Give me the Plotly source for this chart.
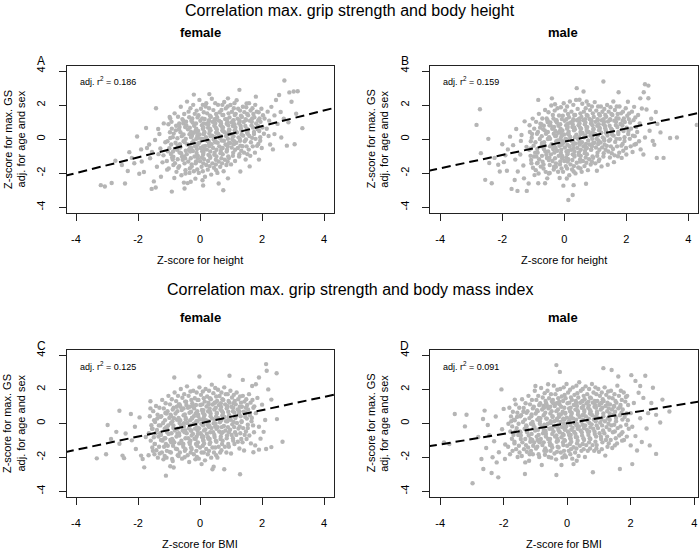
import plotly.graph_objects as go

# ---------------- data ----------------
TICK_VALS = [-4, -2, 0, 2, 4]
TICK_TEXT = ["-4", "-2", "0", "2", "4"]

PANEL_LETTERS = ["A", "B", "C", "D"]
PANEL_SEX = ["female", "male", "female", "male"]
X_TITLES = ["Z-score for height", "Z-score for height", "Z-score for BMI", "Z-score for BMI"]
ADJ_R2 = ["0.186", "0.159", "0.125", "0.091"]
FIT_INTERCEPT = [-0.15, -0.15, 0.0, 0.0]
FIT_SLOPE = [0.46, 0.39, 0.39, 0.31]
ROW_TITLES = ["Correlation max. grip strength and body height",
              "Correlation max. grip strength and body mass index"]
Y_TITLE_1 = "Z-score for max. GS"
Y_TITLE_2 = "adj. for age and sex"

# panel A: female, height
A_PTS = [
(-3.20,-2.70),(-3.07,-2.78),(-2.85,-2.57),(-2.73,-1.27),(-2.52,-1.52),(-2.42,-2.60),(-2.33,-1.87),(-2.28,-0.76),
(-2.12,-1.41),(-2.03,0.16),(-1.96,-2.03),(-1.88,-1.31),(-1.81,-1.93),(-1.74,0.66),(-1.71,-0.52),(-1.64,-0.31),
(-1.61,-1.12),(-1.56,-2.92),(-1.49,-2.48),(-1.43,-2.84),(-1.42,1.82),(-1.39,-1.62),(-1.34,-0.88),(-1.31,0.31),
(-1.26,-2.21),(-1.21,-1.36),(-1.17,0.93),(-1.12,-0.18),(-1.06,-1.79),(-0.91,-3.08),(-0.96,1.22),(-1.45,-0.05),
(-1.55,-0.75),(-1.28,-0.55),(-1.18,-0.95),(-2.20,-1.10),(-1.90,-0.60),(-1.35,0.60),
(-1.02,0.88),(-0.97,0.41),(-1.05,-0.12),(-0.99,-0.53),(-0.94,-0.87),(-1.07,-1.28),(-1.01,-1.72),(-0.96,0.07),(-1.04,-0.71),(-0.98,1.31),
(-0.82,1.52),(-0.77,0.79),(-0.85,0.33),(-0.79,-0.21),(-0.74,-0.62),(-0.86,-1.03),(-0.81,-1.41),(-0.76,-1.92),(-0.83,-2.28),(-0.78,0.52),(-0.72,-0.38),(-0.88,-1.19),
(-0.62,1.91),(-0.57,1.18),(-0.66,0.72),(-0.59,0.18),(-0.53,-0.12),(-0.64,-0.49),(-0.61,-0.83),(-0.56,-1.21),(-0.67,-1.58),(-0.60,-2.12),(-0.54,0.93),(-0.65,-0.29),(-0.58,-1.02),(-0.63,0.41),(-0.52,-2.55),
(-0.42,2.21),(-0.37,1.62),(-0.45,1.03),(-0.39,0.58),(-0.34,0.29),(-0.46,0.02),(-0.41,-0.31),(-0.36,-0.62),(-0.43,-0.88),(-0.38,-1.31),(-0.33,-1.72),(-0.47,-2.02),(-0.40,-2.58),(-0.35,1.29),(-0.44,0.81),(-0.32,-0.49),(-0.48,-1.12),
(-0.22,2.02),(-0.17,1.49),(-0.25,1.22),(-0.19,0.79),(-0.14,0.51),(-0.26,0.21),(-0.21,-0.09),(-0.16,-0.42),(-0.23,-0.69),(-0.18,-1.02),(-0.13,-1.31),(-0.27,-1.61),(-0.20,-1.88),(-0.15,-2.32),(-0.24,0.98),(-0.12,0.03),(-0.28,-0.52),(-0.11,-0.81),(-0.20,0.38),(-0.20,2.62),
(-0.02,2.31),(0.03,1.79),(-0.05,1.41),(0.01,1.08),(0.06,0.82),(-0.06,0.49),(-0.01,0.28),(0.04,0.02),(-0.03,-0.21),(0.02,-0.52),(0.07,-0.71),(-0.07,-0.98),(0.00,-1.29),(0.05,-1.62),(-0.04,-1.98),(0.08,-2.41),(0.09,0.61),(-0.08,-0.33),(0.10,-0.91),(-0.09,0.19),(0.10,-2.72),
(0.18,1.92),(0.23,1.52),(0.15,1.19),(0.21,0.91),(0.26,0.68),(0.14,0.42),(0.19,0.12),(0.24,-0.11),(0.17,-0.39),(0.22,-0.61),(0.27,-0.92),(0.13,-1.18),(0.20,-1.52),(0.25,-1.79),(0.16,-2.21),(0.28,1.02),(0.12,0.31),(0.29,-0.28),(0.11,-0.79),(0.20,2.12),
(0.38,2.38),(0.43,1.71),(0.35,1.31),(0.41,1.02),(0.46,0.79),(0.34,0.52),(0.39,0.21),(0.44,-0.02),(0.37,-0.29),(0.42,-0.51),(0.47,-0.79),(0.33,-1.09),(0.40,-1.42),(0.45,-1.68),(0.36,-2.08),(0.48,1.12),(0.32,0.62),(0.49,-0.18),(0.31,-0.98),(0.30,0.33),(0.30,2.65),
(0.58,2.02),(0.63,1.58),(0.55,1.29),(0.61,1.09),(0.66,0.82),(0.54,0.59),(0.59,0.31),(0.64,0.08),(0.57,-0.21),(0.62,-0.42),(0.67,-0.69),(0.53,-1.01),(0.60,-1.31),(0.65,-1.62),(0.56,-1.98),(0.68,0.91),(0.52,0.38),(0.69,-0.52),(0.51,-1.21),(0.60,-2.60),
(0.78,2.19),(0.83,1.81),(0.75,1.42),(0.81,1.18),(0.86,0.91),(0.74,0.69),(0.79,0.41),(0.84,0.19),(0.77,-0.09),(0.82,-0.31),(0.87,-0.62),(0.73,-0.88),(0.80,-1.21),(0.85,-1.52),(0.76,-1.88),(0.88,1.02),(0.72,0.52),(0.89,-0.41),(0.75,-3.00),(0.90,2.40),
(0.98,2.01),(1.03,1.61),(0.95,1.28),(1.01,0.99),(1.06,0.78),(0.94,0.58),(0.99,0.29),(1.04,0.01),(0.97,-0.22),(1.02,-0.49),(1.07,-0.79),(0.93,-1.11),(1.00,-1.48),(1.08,1.12),(0.92,0.41),(1.09,-0.29),
(1.18,2.29),(1.23,1.79),(1.15,1.49),(1.21,1.21),(1.26,0.92),(1.14,0.69),(1.19,0.39),(1.24,0.11),(1.17,-0.21),(1.22,-0.52),(1.27,-0.88),(1.13,-1.28),(1.28,1.02),(1.12,0.52),(1.29,-0.09),(1.27,2.90),
(1.38,1.91),(1.43,1.59),(1.35,1.31),(1.41,1.01),(1.46,0.78),(1.34,0.49),(1.39,0.21),(1.44,-0.12),(1.37,-0.41),(1.42,-0.79),(1.47,-1.19),(1.48,1.12),(1.32,0.62),(1.50,2.10),
(1.58,2.12),(1.63,1.69),(1.55,1.41),(1.61,1.09),(1.66,0.81),(1.54,0.52),(1.59,0.19),(1.64,-0.18),(1.57,-0.61),(1.62,-0.98),(1.68,1.22),(1.52,0.38),
(1.78,2.02),(1.83,1.62),(1.75,1.29),(1.81,0.92),(1.86,0.59),(1.74,0.31),(1.79,0.02),(1.84,-0.39),(1.77,-0.79),(1.88,1.11),(1.80,2.50),
(1.98,1.79),(2.03,1.41),(1.95,1.02),(2.01,0.69),(2.06,0.32),(1.94,-0.09),(1.99,-0.52),(2.08,1.22),
(2.18,1.62),(2.23,1.09),(2.15,0.61),(2.21,0.19),(2.26,-0.31),
(2.72,3.45),(2.88,2.75),(3.02,2.80),(3.15,2.82),(2.95,2.20),(3.30,0.65),(3.05,-0.30),(2.80,-0.38),(2.60,1.60),(2.50,0.90),
(2.70,1.20),(2.45,2.30),(2.55,2.60),(2.35,-0.60),(2.30,1.90),(2.40,0.30),(2.62,0.10),(2.85,1.00),(3.10,1.50),(2.40,1.40),
(-0.30,-2.50),(1.90,-1.20),(1.30,-1.90),(0.90,-2.30),(-0.50,-2.90),(1.60,-1.60),
# denser core
(-0.91,0.62),(-0.88,0.12),(-0.93,-0.31),(-0.87,-0.72),(-0.90,-1.08),(-0.86,-1.52),(-0.92,1.02),
(-0.71,1.32),(-0.68,0.58),(-0.73,0.06),(-0.69,-0.42),(-0.66,-0.78),(-0.72,-1.18),(-0.70,-1.68),(-0.67,0.92),
(-0.51,1.48),(-0.48,0.72),(-0.53,0.28),(-0.49,-0.18),(-0.46,-0.68),(-0.52,-1.02),(-0.50,-1.42),(-0.47,-1.82),(-0.54,1.08),
(-0.31,1.82),(-0.28,1.08),(-0.33,0.68),(-0.29,0.12),(-0.26,-0.22),(-0.32,-0.72),(-0.30,-1.12),(-0.27,-1.48),(-0.34,-1.98),(-0.29,0.42),
(-0.11,1.68),(-0.08,1.28),(-0.13,0.92),(-0.09,0.38),(-0.06,0.08),(-0.12,-0.28),(-0.10,-0.58),(-0.07,-1.12),(-0.14,-1.42),(-0.09,-1.78),(-0.12,0.62),
(0.09,2.02),(0.12,1.58),(0.07,1.22),(0.11,0.68),(0.14,0.38),(0.08,0.02),(0.10,-0.42),(0.13,-0.62),(0.06,-1.08),(0.11,-1.42),(0.09,-1.88),(0.12,0.92),
(0.29,1.82),(0.32,1.38),(0.27,0.88),(0.31,0.48),(0.34,0.18),(0.28,-0.12),(0.30,-0.42),(0.33,-0.72),(0.26,-1.28),(0.31,-1.58),(0.29,1.12),
(0.49,2.12),(0.52,1.48),(0.47,1.18),(0.51,0.68),(0.54,0.42),(0.48,0.12),(0.50,-0.12),(0.53,-0.62),(0.46,-0.92),(0.51,-1.48),(0.49,0.92),(0.52,-1.82),
(0.69,1.72),(0.72,1.42),(0.67,1.02),(0.71,0.72),(0.74,0.48),(0.68,0.18),(0.70,-0.08),(0.73,-0.52),(0.66,-0.82),(0.71,-1.42),(0.69,-1.12),(0.72,2.02),
(0.89,1.92),(0.92,1.52),(0.87,1.18),(0.91,0.82),(0.94,0.52),(0.88,0.28),(0.90,0.02),(0.93,-0.22),(0.86,-0.72),(0.91,-1.02),(0.89,-1.32),
(1.09,1.82),(1.12,1.42),(1.07,1.08),(1.11,0.88),(1.14,0.52),(1.08,0.18),(1.10,-0.12),(1.13,-0.62),(1.06,-0.98),(1.11,2.12),
(1.29,1.68),(1.32,1.38),(1.27,1.12),(1.31,0.78),(1.34,0.28),(1.28,0.02),(1.30,-0.38),(1.33,-0.68),(1.26,-1.02),
(1.49,1.88),(1.52,1.48),(1.47,1.18),(1.51,0.62),(1.54,0.32),(1.48,-0.02),(1.50,-0.42),(1.53,-0.88),
(1.69,1.82),(1.72,1.48),(1.67,1.02),(1.71,0.68),(1.74,0.42),(1.68,0.08),(1.70,-0.42),
(1.89,1.58),(1.92,1.22),(1.87,0.78),(1.91,0.48),(1.94,0.12),(1.88,-0.28),
]

# panel B: male, height
B_PTS = [
(-2.72,1.76),(-2.83,0.84),(-2.45,0.02),(-2.69,-0.82),(-2.55,-2.39),(-2.34,-2.59),(-1.70,-2.92),(-1.51,-3.04),
(-1.21,-3.04),(-2.42,-1.40),(-2.13,-1.50),(-2.08,-1.90),(-1.95,-1.35),(-1.85,-1.85),(-1.82,-0.60),(-1.75,0.15),
(-1.65,-0.35),(-1.58,-1.20),(-1.55,0.60),(-1.50,-1.90),(-1.42,-0.90),(-1.38,0.25),(-1.32,-1.55),(-1.30,-2.30),
(-1.28,1.05),(-1.22,-0.45),(-1.40,-0.10),(-1.90,-0.95),(-2.25,-1.10),(-2.00,-0.30),(-1.60,-2.40),(-1.15,-2.60),
(-1.02,1.21),(-0.97,0.62),(-1.05,0.09),(-0.99,-0.38),(-0.94,-0.79),(-1.07,-1.22),(-1.01,-1.68),(-0.96,-2.11),(-1.04,0.31),(-0.98,-1.02),(-1.08,-0.55),
(-0.82,1.49),(-0.77,0.91),(-0.85,0.42),(-0.79,0.01),(-0.74,-0.41),(-0.86,-0.79),(-0.81,-1.18),(-0.76,-1.61),(-0.83,-2.02),(-0.78,0.68),(-0.72,-0.22),(-0.88,-1.42),(-0.84,2.31),(-0.62,-2.59),(-0.84,-2.59),
(-0.62,1.72),(-0.57,1.22),(-0.66,0.79),(-0.59,0.32),(-0.53,0.01),(-0.64,-0.38),(-0.61,-0.72),(-0.56,-1.11),(-0.67,-1.49),(-0.60,-1.92),(-0.54,1.01),(-0.65,-0.18),(-0.58,-0.92),(-0.63,0.52),(-0.55,-2.30),
(-0.42,1.98),(-0.37,1.42),(-0.45,0.99),(-0.39,0.61),(-0.34,0.32),(-0.46,0.02),(-0.41,-0.29),(-0.36,-0.58),(-0.43,-0.89),(-0.38,-1.28),(-0.33,-1.62),(-0.47,-1.98),(-0.35,1.21),(-0.44,0.81),(-0.32,-0.42),(-0.48,-1.09),(-0.40,2.40),
(-0.22,1.82),(-0.17,1.39),(-0.25,1.12),(-0.19,0.79),(-0.14,0.49),(-0.26,0.21),(-0.21,-0.08),(-0.16,-0.39),(-0.23,-0.68),(-0.18,-0.98),(-0.13,-1.31),(-0.27,-1.62),(-0.20,-1.91),(-0.15,-2.28),(-0.24,0.98),(-0.12,0.03),(-0.28,-0.52),(-0.11,-0.81),(-0.20,0.38),
(-0.02,2.11),(0.03,1.69),(-0.05,1.38),(0.01,1.08),(0.06,0.82),(-0.06,0.51),(-0.01,0.28),(0.04,0.02),(-0.03,-0.21),(0.02,-0.49),(0.07,-0.72),(-0.07,-0.99),(0.00,-1.28),(0.05,-1.58),(-0.04,-1.92),(0.08,-2.31),(0.09,0.62),(-0.08,-0.33),(0.10,-0.88),(-0.09,0.18),(-0.03,-2.73),(0.13,-3.57),(0.27,-3.28),
(0.18,2.22),(0.23,1.62),(0.15,1.29),(0.21,0.98),(0.26,0.72),(0.14,0.44),(0.19,0.13),(0.24,-0.12),(0.17,-0.41),(0.22,-0.62),(0.27,-0.89),(0.13,-1.18),(0.20,-1.48),(0.25,-1.78),(0.16,-2.12),(0.28,1.08),(0.12,0.32),(0.29,-0.29),(0.11,-0.79),(0.30,-2.70),
(0.38,2.31),(0.43,1.78),(0.35,1.42),(0.41,1.11),(0.46,0.82),(0.34,0.58),(0.39,0.27),(0.44,0.02),(0.37,-0.26),(0.42,-0.51),(0.47,-0.78),(0.33,-1.02),(0.40,-1.38),(0.45,-1.66),(0.36,-2.01),(0.48,1.21),(0.32,0.69),(0.49,-0.16),(0.31,-0.92),(0.40,3.00),(0.62,2.80),
(0.58,2.08),(0.63,1.62),(0.55,1.31),(0.61,1.12),(0.66,0.88),(0.54,0.62),(0.59,0.36),(0.64,0.11),(0.57,-0.18),(0.62,-0.41),(0.67,-0.68),(0.53,-0.98),(0.60,-1.28),(0.65,-1.58),(0.56,-1.92),(0.68,0.98),(0.52,0.42),(0.69,-0.52),(0.51,-1.18),(0.70,-2.62),
(0.78,2.02),(0.83,1.71),(0.75,1.38),(0.81,1.19),(0.86,0.92),(0.74,0.71),(0.79,0.42),(0.84,0.21),(0.77,-0.08),(0.82,-0.31),(0.87,-0.61),(0.73,-0.88),(0.80,-1.18),(0.85,-1.49),(0.76,-1.82),(0.88,1.04),(0.72,0.54),(0.89,-0.41),
(0.98,2.18),(1.03,1.68),(0.95,1.31),(1.01,1.02),(1.06,0.79),(0.94,0.58),(0.99,0.31),(1.04,0.02),(0.97,-0.21),(1.02,-0.49),(1.07,-0.79),(0.93,-1.09),(1.00,-1.42),(1.08,1.12),(0.92,0.41),(1.09,-0.28),(1.05,-1.85),
(1.18,1.92),(1.23,1.61),(1.15,1.39),(1.21,1.11),(1.26,0.88),(1.14,0.66),(1.19,0.38),(1.24,0.11),(1.17,-0.19),(1.22,-0.48),(1.27,-0.82),(1.13,-1.19),(1.28,1.01),(1.12,0.52),(1.29,-0.08),(1.26,3.39),(1.20,-1.60),
(1.38,2.01),(1.43,1.62),(1.35,1.32),(1.41,1.04),(1.46,0.79),(1.34,0.51),(1.39,0.22),(1.44,-0.09),(1.37,-0.39),(1.42,-0.72),(1.47,-1.08),(1.48,1.18),(1.32,0.64),(1.40,-1.50),
(1.58,2.22),(1.63,1.72),(1.55,1.42),(1.61,1.09),(1.66,0.83),(1.54,0.54),(1.59,0.21),(1.64,-0.16),(1.57,-0.58),(1.62,-0.95),(1.68,1.24),(1.52,0.38),(1.60,-1.35),(1.75,2.76),
(1.78,1.92),(1.83,1.52),(1.75,1.22),(1.81,0.89),(1.86,0.58),(1.74,0.31),(1.79,0.02),(1.84,-0.38),(1.77,-0.79),(1.88,1.09),(1.85,-1.10),
(1.98,1.82),(2.03,1.38),(1.95,1.01),(2.01,0.68),(2.06,0.31),(1.94,-0.11),(1.99,-0.52),(2.08,1.18),(2.00,-0.90),(2.05,2.20),
(2.18,1.62),(2.23,1.12),(2.15,0.62),(2.21,0.21),(2.26,-0.32),(2.20,-0.75),(2.25,1.90),
(2.38,1.42),(2.43,0.92),(2.35,0.42),(2.41,-0.12),(2.46,-0.60),(2.45,2.40),
(2.60,3.23),(2.71,3.15),(2.56,2.76),(2.71,2.41),(2.90,-0.33),(2.98,-1.10),(3.20,-1.10),(3.41,0.07),(3.63,0.10),(4.27,0.84),
(2.65,1.75),(2.80,1.20),(2.75,0.50),(3.00,0.90),(2.55,-0.90),(2.85,-0.10),(2.60,0.10),(3.10,0.40),(2.50,1.80),(2.95,1.60),
# denser core
(-1.11,0.42),(-1.08,-0.12),(-1.13,-0.62),(-1.09,-0.98),(-1.06,-1.42),(-1.12,0.82),
(-0.91,1.02),(-0.88,0.32),(-0.93,-0.18),(-0.87,-0.58),(-0.90,-1.02),(-0.86,-1.38),(-0.92,-1.82),
(-0.71,1.22),(-0.68,0.58),(-0.73,0.18),(-0.69,-0.32),(-0.66,-0.58),(-0.72,-0.98),(-0.70,-1.32),(-0.67,-1.72),(-0.74,0.88),
(-0.51,1.58),(-0.48,0.82),(-0.53,0.42),(-0.49,0.12),(-0.46,-0.42),(-0.52,-0.72),(-0.50,-1.22),(-0.47,-1.52),(-0.54,1.12),(-0.50,-2.02),
(-0.31,1.68),(-0.28,1.08),(-0.33,0.72),(-0.29,0.18),(-0.26,-0.12),(-0.32,-0.78),(-0.30,-1.12),(-0.27,-1.42),(-0.34,-1.78),(-0.29,0.48),(-0.30,2.05),
(-0.11,1.88),(-0.08,1.18),(-0.13,0.88),(-0.09,0.32),(-0.06,-0.12),(-0.12,-0.28),(-0.10,-0.62),(-0.07,-1.12),(-0.14,-1.48),(-0.09,-1.72),(-0.12,0.62),
(0.09,1.92),(0.12,1.48),(0.07,1.18),(0.11,0.72),(0.14,0.28),(0.08,-0.02),(0.10,-0.32),(0.13,-0.68),(0.06,-1.08),(0.11,-1.32),(0.09,-1.72),(0.12,0.92),
(0.29,2.02),(0.32,1.42),(0.27,0.88),(0.31,0.52),(0.34,0.12),(0.28,-0.12),(0.30,-0.52),(0.33,-0.72),(0.26,-1.22),(0.31,-1.58),(0.29,1.18),(0.30,-1.90),
(0.49,2.32),(0.52,1.52),(0.47,1.08),(0.51,0.68),(0.54,0.32),(0.48,0.12),(0.50,-0.32),(0.53,-0.62),(0.46,-0.92),(0.51,-1.32),(0.49,0.92),(0.52,-1.72),
(0.69,1.82),(0.72,1.42),(0.67,1.18),(0.71,0.72),(0.74,0.42),(0.68,0.22),(0.70,-0.28),(0.73,-0.52),(0.66,-0.82),(0.71,-1.38),(0.69,-1.08),(0.72,2.22),
(0.89,1.92),(0.92,1.52),(0.87,1.12),(0.91,0.82),(0.94,0.62),(0.88,0.28),(0.90,0.02),(0.93,-0.22),(0.86,-0.62),(0.91,-1.02),(0.89,-1.32),
(1.09,1.92),(1.12,1.48),(1.07,1.18),(1.11,0.88),(1.14,0.62),(1.08,0.22),(1.10,-0.08),(1.13,-0.62),(1.06,-0.98),(1.11,-1.28),
(1.29,1.78),(1.32,1.42),(1.27,1.18),(1.31,0.78),(1.34,0.38),(1.28,0.02),(1.30,-0.32),(1.33,-0.62),(1.26,-1.02),
(1.49,1.88),(1.52,1.48),(1.47,1.12),(1.51,0.62),(1.54,0.28),(1.48,-0.02),(1.50,-0.42),(1.53,-0.82),
(1.69,1.92),(1.72,1.48),(1.67,1.02),(1.71,0.72),(1.74,0.42),(1.68,0.02),(1.70,-0.42),(1.73,-1.00),
(1.89,1.62),(1.92,1.22),(1.87,0.82),(1.91,0.48),(1.94,0.12),(1.88,-0.28),(1.90,-0.68),
(2.09,1.52),(2.12,0.98),(2.07,0.48),(2.11,0.02),(2.14,-0.42),
(2.29,1.28),(2.32,0.72),(2.27,0.18),(2.31,-0.28),
]

# panel C: female, BMI
C_PTS = [
(-3.33,-2.06),(-3.03,-1.82),(-2.98,-0.10),(-2.87,-0.92),(-2.60,0.74),(-2.50,-1.90),(-2.45,-2.05),(-2.23,0.55),
(-2.07,-1.51),(-1.90,-1.90),(-1.85,-2.10),(-1.80,-2.59),(-2.40,-0.60),(-2.20,-1.00),(-2.60,-1.20),(-2.10,-0.20),
(-1.95,0.35),(-2.70,-0.50),(-1.60,1.30),(-1.75,-0.80),(-1.10,-3.08),(-0.96,-2.53),(-0.85,-2.60),(-0.83,2.70),
(-1.62,0.42),(-1.57,-0.11),(-1.65,-0.58),(-1.59,-1.02),(-1.54,-1.42),(-1.66,-1.88),(-1.60,0.88),(-1.55,-0.32),
(-1.42,1.02),(-1.37,0.51),(-1.45,0.08),(-1.39,-0.39),(-1.34,-0.78),(-1.46,-1.21),(-1.41,-1.58),(-1.36,-2.02),(-1.43,-0.58),(-1.38,0.28),(-1.47,-1.82),
(-1.22,1.38),(-1.17,0.88),(-1.25,0.42),(-1.19,0.02),(-1.14,-0.32),(-1.26,-0.68),(-1.21,-1.02),(-1.16,-1.38),(-1.23,-1.72),(-1.18,-2.12),(-1.12,0.61),(-1.28,-0.12),(-1.15,-0.88),
(-1.02,1.62),(-0.97,1.12),(-1.05,0.71),(-0.99,0.32),(-0.94,0.01),(-1.07,-0.31),(-1.01,-0.62),(-0.96,-0.98),(-1.04,-1.32),(-0.98,-1.68),(-1.08,-2.02),(-0.95,0.51),(-1.03,-0.12),(-0.93,-1.12),
(-0.82,1.82),(-0.77,1.31),(-0.85,0.92),(-0.79,0.58),(-0.74,0.21),(-0.86,-0.12),(-0.81,-0.42),(-0.76,-0.78),(-0.83,-1.12),(-0.78,-1.49),(-0.72,-1.88),(-0.88,-2.22),(-0.75,0.98),(-0.84,0.31),(-0.73,-0.61),(-0.87,-1.02),
(-0.62,2.02),(-0.57,1.51),(-0.66,1.12),(-0.59,0.78),(-0.53,0.48),(-0.64,0.18),(-0.61,-0.12),(-0.56,-0.42),(-0.67,-0.72),(-0.60,-1.02),(-0.54,-1.38),(-0.65,-1.72),(-0.58,-2.08),(-0.63,0.98),(-0.52,0.01),(-0.68,-0.58),(-0.55,-1.22),
(-0.42,2.18),(-0.37,1.62),(-0.45,1.28),(-0.39,0.92),(-0.34,0.62),(-0.46,0.32),(-0.41,0.02),(-0.36,-0.29),(-0.43,-0.58),(-0.38,-0.88),(-0.33,-1.21),(-0.47,-1.52),(-0.40,-1.88),(-0.35,-2.28),(-0.44,1.08),(-0.32,0.18),(-0.48,-0.42),(-0.31,-1.02),
(-0.22,1.92),(-0.17,1.48),(-0.25,1.18),(-0.19,0.88),(-0.14,0.58),(-0.26,0.29),(-0.21,-0.02),(-0.16,-0.31),(-0.23,-0.62),(-0.18,-0.91),(-0.13,-1.22),(-0.27,-1.51),(-0.20,-1.82),(-0.15,-2.12),(-0.24,1.02),(-0.12,0.12),(-0.28,-0.42),(-0.11,-0.78),(-0.20,0.42),
(-0.02,2.12),(0.03,1.68),(-0.05,1.38),(0.01,1.08),(0.06,0.79),(-0.06,0.51),(-0.01,0.24),(0.04,-0.02),(-0.03,-0.29),(0.02,-0.58),(0.07,-0.82),(-0.07,-1.12),(0.00,-1.42),(0.05,-1.72),(-0.04,-2.08),(0.09,0.62),(-0.08,-0.42),(0.10,-0.98),(-0.09,0.12),(-0.02,2.76),(0.05,-2.40),
(0.18,2.02),(0.23,1.58),(0.15,1.28),(0.21,0.99),(0.26,0.71),(0.14,0.46),(0.19,0.18),(0.24,-0.08),(0.17,-0.36),(0.22,-0.61),(0.27,-0.91),(0.13,-1.19),(0.20,-1.51),(0.25,-1.82),(0.16,-2.18),(0.28,1.12),(0.12,0.32),(0.29,-0.22),(0.11,-0.79),
(0.38,2.28),(0.43,1.78),(0.35,1.42),(0.41,1.11),(0.46,0.82),(0.34,0.58),(0.39,0.28),(0.44,0.01),(0.37,-0.28),(0.42,-0.52),(0.47,-0.81),(0.33,-1.12),(0.40,-1.42),(0.45,-1.72),(0.36,-2.02),(0.48,1.22),(0.32,0.68),(0.49,-0.18),(0.31,-0.92),(0.44,-2.55),(0.40,-2.70),
(0.58,1.98),(0.63,1.61),(0.55,1.32),(0.61,1.08),(0.66,0.82),(0.54,0.58),(0.59,0.31),(0.64,0.06),(0.57,-0.22),(0.62,-0.48),(0.67,-0.78),(0.53,-1.08),(0.60,-1.38),(0.65,-1.72),(0.56,-2.02),(0.68,0.96),(0.52,0.41),(0.69,-0.58),
(0.78,2.12),(0.83,1.72),(0.75,1.38),(0.81,1.12),(0.86,0.88),(0.74,0.62),(0.79,0.38),(0.84,0.12),(0.77,-0.16),(0.82,-0.42),(0.87,-0.72),(0.73,-1.02),(0.80,-1.38),(0.85,-1.72),(0.88,0.98),(0.72,0.48),(0.78,-2.70),(0.95,2.80),
(0.98,1.92),(1.03,1.52),(0.95,1.22),(1.01,0.98),(1.06,0.72),(0.94,0.48),(0.99,0.21),(1.04,-0.06),(0.97,-0.38),(1.02,-0.68),(1.07,-1.02),(0.93,-1.38),(1.00,-1.78),(1.08,1.18),(0.92,0.31),
(1.18,1.82),(1.23,1.42),(1.15,1.12),(1.21,0.82),(1.26,0.58),(1.14,0.31),(1.19,0.02),(1.24,-0.31),(1.17,-0.68),(1.22,-1.08),(1.27,-1.48),(1.28,0.98),(1.29,-3.00),(1.38,2.56),
(1.38,1.62),(1.43,1.28),(1.35,0.98),(1.41,0.68),(1.46,0.38),(1.34,0.08),(1.39,-0.28),(1.44,-0.68),(1.37,-1.12),(1.48,0.92),(1.42,-1.60),
(1.58,1.72),(1.63,1.22),(1.55,0.82),(1.61,0.48),(1.66,0.12),(1.54,-0.28),(1.59,-0.72),(1.64,-1.18),(1.68,2.20),
(1.85,1.50),(1.80,0.60),(1.90,-0.20),(1.95,-0.90),(1.78,-1.30),(2.00,1.10),(2.13,3.49),(2.15,3.10),(2.47,2.95),(1.90,2.70),
(1.80,2.30),(2.30,1.40),(2.48,0.25),(2.66,-1.08),(2.30,-1.40),(2.13,-1.51),(1.72,-1.70),(1.90,-1.55),(2.10,0.20),(2.20,2.00),
(2.05,-0.50),(1.75,1.00),
# denser core
(-1.51,0.72),(-1.48,0.18),(-1.53,-0.32),(-1.49,-0.82),(-1.46,-1.22),(-1.52,-1.62),
(-1.31,0.92),(-1.28,0.38),(-1.33,-0.12),(-1.29,-0.58),(-1.26,-0.98),(-1.32,-1.38),(-1.30,-1.78),
(-1.11,1.18),(-1.08,0.58),(-1.13,0.18),(-1.09,-0.22),(-1.06,-0.52),(-1.12,-0.88),(-1.10,-1.22),(-1.07,-1.62),(-1.14,-1.92),
(-0.91,1.42),(-0.88,0.82),(-0.93,0.42),(-0.89,0.12),(-0.86,-0.28),(-0.92,-0.58),(-0.90,-0.92),(-0.87,-1.32),(-0.94,-1.72),(-0.90,-2.10),
(-0.71,1.62),(-0.68,1.12),(-0.73,0.72),(-0.69,0.32),(-0.66,0.02),(-0.72,-0.32),(-0.70,-0.62),(-0.67,-1.18),(-0.74,-1.52),(-0.69,-1.92),
(-0.51,1.72),(-0.48,1.28),(-0.53,0.88),(-0.49,0.52),(-0.46,0.22),(-0.52,-0.18),(-0.50,-0.52),(-0.47,-0.88),(-0.54,-1.22),(-0.49,-1.62),(-0.50,-2.00),
(-0.31,1.88),(-0.28,1.38),(-0.33,0.98),(-0.29,0.68),(-0.26,0.32),(-0.32,-0.12),(-0.30,-0.42),(-0.27,-0.72),(-0.34,-1.12),(-0.29,-1.42),(-0.30,-1.72),
(-0.11,1.82),(-0.08,1.38),(-0.13,1.08),(-0.09,0.72),(-0.06,0.42),(-0.12,0.02),(-0.10,-0.22),(-0.07,-0.62),(-0.14,-0.92),(-0.09,-1.32),(-0.12,-1.62),(-0.10,-1.98),
(0.09,1.88),(0.12,1.48),(0.07,1.12),(0.11,0.78),(0.14,0.52),(0.08,0.22),(0.10,-0.12),(0.13,-0.42),(0.06,-0.72),(0.11,-1.02),(0.09,-1.32),(0.12,-1.72),
(0.29,1.92),(0.32,1.48),(0.27,1.22),(0.31,0.88),(0.34,0.42),(0.28,0.12),(0.30,-0.12),(0.33,-0.52),(0.26,-0.82),(0.31,-1.22),(0.29,-1.62),
(0.49,2.08),(0.52,1.58),(0.47,1.22),(0.51,0.92),(0.54,0.62),(0.48,0.22),(0.50,-0.02),(0.53,-0.32),(0.46,-0.68),(0.51,-1.02),(0.49,-1.42),(0.52,-1.88),
(0.69,1.82),(0.72,1.42),(0.67,1.18),(0.71,0.72),(0.74,0.42),(0.68,0.18),(0.70,-0.22),(0.73,-0.52),(0.66,-0.92),(0.71,-1.22),(0.69,-1.58),
(0.89,1.72),(0.92,1.32),(0.87,1.02),(0.91,0.68),(0.94,0.42),(0.88,0.12),(0.90,-0.22),(0.93,-0.52),(0.86,-0.88),(0.91,-1.22),
(1.09,1.68),(1.12,1.32),(1.07,0.92),(1.11,0.62),(1.14,0.38),(1.08,0.08),(1.10,-0.22),(1.13,-0.52),(1.06,-0.88),(1.11,-1.22),
(1.29,1.58),(1.32,1.22),(1.27,0.72),(1.31,0.42),(1.34,0.12),(1.28,-0.18),(1.30,-0.58),(1.33,-0.92),
(1.49,1.42),(1.52,1.08),(1.47,0.62),(1.51,0.28),(1.54,-0.08),(1.48,-0.48),(1.50,-0.92),
(1.69,1.38),(1.72,0.92),(1.67,0.32),(1.71,-0.12),(1.74,-0.52),
]

# panel D: male, BMI
D_PTS = [
(-3.88,-1.12),(-3.71,-1.22),(-3.54,0.55),(-3.17,0.51),(-3.22,-0.18),(-2.98,-3.53),(-2.64,-2.69),(-2.38,-2.92),
(-2.17,-3.18),(-2.22,-2.30),(-1.96,-2.10),(-2.60,0.75),(-2.65,0.26),(-2.50,-0.10),(-2.45,-0.70),(-2.07,2.00),
(-1.65,1.40),(-1.33,-2.98),(-2.80,-0.80),(-2.55,-1.45),(-2.30,-1.05),(-2.15,-1.70),(-2.25,0.40),(-2.05,-0.35),
(-2.00,0.85),(-1.95,-1.25),(-2.35,-2.00),(-2.70,-2.10),
(-1.82,0.92),(-1.77,0.41),(-1.85,-0.02),(-1.79,-0.48),(-1.74,-0.91),(-1.86,-1.38),(-1.80,-1.82),(-1.76,0.12),
(-1.62,1.12),(-1.57,0.62),(-1.65,0.18),(-1.59,-0.28),(-1.54,-0.69),(-1.66,-1.08),(-1.61,-1.52),(-1.56,-1.98),(-1.63,-0.48),(-1.58,0.38),
(-1.42,1.42),(-1.37,0.91),(-1.45,0.48),(-1.39,0.08),(-1.34,-0.32),(-1.46,-0.71),(-1.41,-1.12),(-1.36,-1.52),(-1.43,-1.92),(-1.38,0.68),(-1.47,-0.52),(-1.32,-2.30),
(-1.22,1.62),(-1.17,1.12),(-1.25,0.72),(-1.19,0.31),(-1.14,-0.02),(-1.26,-0.38),(-1.21,-0.72),(-1.16,-1.08),(-1.23,-1.42),(-1.18,-1.82),(-1.12,0.52),(-1.28,-0.18),(-1.15,-0.92),(-1.20,-2.20),
(-1.02,1.92),(-0.97,1.38),(-1.05,0.98),(-0.99,0.58),(-0.94,0.22),(-1.07,-0.08),(-1.01,-0.42),(-0.96,-0.78),(-1.04,-1.12),(-0.98,-1.48),(-1.08,-1.82),(-0.95,0.78),(-1.03,-0.22),(-0.93,-0.98),(-1.00,2.20),
(-0.82,2.08),(-0.77,1.52),(-0.85,1.18),(-0.79,0.82),(-0.74,0.48),(-0.86,0.12),(-0.81,-0.22),(-0.76,-0.58),(-0.83,-0.92),(-0.78,-1.28),(-0.72,-1.62),(-0.88,-1.98),(-0.75,1.02),(-0.84,0.31),(-0.73,-0.41),(-0.87,-1.12),(-0.80,-2.45),
(-0.62,1.92),(-0.57,1.48),(-0.66,1.18),(-0.59,0.88),(-0.53,0.58),(-0.64,0.28),(-0.61,-0.02),(-0.56,-0.32),(-0.67,-0.62),(-0.60,-0.92),(-0.54,-1.28),(-0.65,-1.62),(-0.58,-1.98),(-0.63,1.02),(-0.52,0.12),(-0.68,-0.48),(-0.55,-1.12),(-0.60,2.30),
(-0.42,2.22),(-0.37,1.72),(-0.45,1.38),(-0.39,1.02),(-0.34,0.72),(-0.46,0.42),(-0.41,0.12),(-0.36,-0.18),(-0.43,-0.48),(-0.38,-0.78),(-0.33,-1.08),(-0.47,-1.42),(-0.40,-1.78),(-0.35,-2.12),(-0.44,1.18),(-0.32,0.28),(-0.48,-0.32),(-0.31,-0.92),(-0.34,3.43),(-0.23,3.03),(-0.34,-3.04),
(-0.22,2.02),(-0.17,1.58),(-0.25,1.28),(-0.19,0.98),(-0.14,0.68),(-0.26,0.38),(-0.21,0.08),(-0.16,-0.22),(-0.23,-0.52),(-0.18,-0.82),(-0.13,-1.12),(-0.27,-1.42),(-0.20,-1.72),(-0.15,-2.02),(-0.24,1.12),(-0.12,0.22),(-0.28,-0.32),(-0.11,-0.68),(-0.20,0.52),(-0.18,-2.45),
(-0.02,2.32),(0.03,1.82),(-0.05,1.48),(0.01,1.18),(0.06,0.88),(-0.06,0.61),(-0.01,0.34),(0.04,0.08),(-0.03,-0.19),(0.02,-0.48),(0.07,-0.72),(-0.07,-1.02),(0.00,-1.32),(0.05,-1.62),(-0.04,-1.98),(0.09,0.72),(-0.08,-0.32),(0.10,-0.88),(-0.09,0.22),(0.20,-2.40),
(0.18,2.12),(0.23,1.68),(0.15,1.38),(0.21,1.08),(0.26,0.81),(0.14,0.56),(0.19,0.28),(0.24,0.02),(0.17,-0.26),(0.22,-0.51),(0.27,-0.81),(0.13,-1.09),(0.20,-1.41),(0.25,-1.72),(0.16,-2.08),(0.28,1.22),(0.12,0.42),(0.29,-0.12),(0.11,-0.69),
(0.38,2.42),(0.43,1.92),(0.35,1.52),(0.41,1.21),(0.46,0.92),(0.34,0.68),(0.39,0.38),(0.44,0.11),(0.37,-0.18),(0.42,-0.42),(0.47,-0.71),(0.33,-1.02),(0.40,-1.32),(0.45,-1.62),(0.36,-1.92),(0.48,1.32),(0.32,0.78),(0.49,-0.08),(0.31,-0.82),
(0.58,2.18),(0.63,1.72),(0.55,1.42),(0.61,1.18),(0.66,0.92),(0.54,0.68),(0.59,0.41),(0.64,0.16),(0.57,-0.12),(0.62,-0.38),(0.67,-0.68),(0.53,-0.98),(0.60,-1.28),(0.65,-1.62),(0.56,-1.98),(0.68,1.06),(0.52,0.51),(0.69,-0.48),
(0.78,2.32),(0.83,1.82),(0.75,1.48),(0.81,1.22),(0.86,0.98),(0.74,0.72),(0.79,0.48),(0.84,0.22),(0.77,-0.06),(0.82,-0.32),(0.87,-0.62),(0.73,-0.92),(0.80,-1.28),(0.85,-1.62),(0.88,1.08),(0.72,0.58),(0.81,-2.88),
(0.98,2.02),(1.03,1.62),(0.95,1.32),(1.01,1.08),(1.06,0.82),(0.94,0.58),(0.99,0.31),(1.04,0.04),(0.97,-0.28),(1.02,-0.58),(1.07,-0.92),(0.93,-1.28),(1.00,-1.68),(1.08,1.22),(0.92,0.42),(1.14,3.25),
(1.18,2.12),(1.23,1.68),(1.15,1.32),(1.21,1.02),(1.26,0.72),(1.14,0.42),(1.19,0.12),(1.24,-0.22),(1.17,-0.58),(1.22,-0.98),(1.27,-1.38),(1.28,1.12),(1.20,-1.90),(1.40,3.14),
(1.38,1.92),(1.43,1.48),(1.35,1.12),(1.41,0.82),(1.46,0.52),(1.34,0.21),(1.39,-0.12),(1.44,-0.52),(1.37,-0.98),(1.48,1.02),(1.42,-1.45),(1.61,2.76),
(1.58,2.22),(1.63,1.62),(1.55,1.22),(1.61,0.88),(1.66,0.48),(1.54,0.12),(1.59,-0.28),(1.64,-0.72),(1.57,-1.18),(1.68,1.08),(1.66,-2.69),
(1.78,1.82),(1.83,1.28),(1.75,0.82),(1.81,0.38),(1.86,-0.08),(1.74,-0.52),(1.79,-0.98),(1.85,1.55),
(2.02,2.84),(2.46,2.80),(2.30,2.20),(2.25,1.80),(2.40,1.50),(2.10,1.20),(2.00,0.60),(2.05,-0.20),(2.15,-0.75),(2.00,-1.30),
(2.20,-1.60),(2.35,-1.10),(2.60,-1.30),(2.50,-0.30),(2.30,0.30),(3.22,0.70),(2.93,0.05),(2.80,-1.80),(2.05,-2.40),(2.65,1.20),
(2.55,0.60),(2.80,0.50),(3.00,1.40),(2.70,2.10),(2.15,2.50),
# denser core
(-1.71,0.68),(-1.68,0.22),(-1.73,-0.18),(-1.69,-0.68),(-1.66,-1.18),(-1.72,-1.62),
(-1.51,0.92),(-1.48,0.42),(-1.53,-0.02),(-1.49,-0.48),(-1.46,-0.92),(-1.52,-1.32),(-1.50,-1.72),
(-1.31,1.18),(-1.28,0.62),(-1.33,0.22),(-1.29,-0.12),(-1.26,-0.52),(-1.32,-0.92),(-1.30,-1.28),(-1.27,-1.68),
(-1.11,1.38),(-1.08,0.88),(-1.13,0.42),(-1.09,0.08),(-1.06,-0.28),(-1.12,-0.62),(-1.10,-0.98),(-1.07,-1.32),(-1.14,-1.62),
(-0.91,1.62),(-0.88,1.08),(-0.93,0.72),(-0.89,0.32),(-0.86,-0.02),(-0.92,-0.38),(-0.90,-0.68),(-0.87,-1.08),(-0.94,-1.38),(-0.90,-1.82),
(-0.71,1.78),(-0.68,1.32),(-0.73,0.92),(-0.69,0.62),(-0.66,0.28),(-0.72,-0.08),(-0.70,-0.42),(-0.67,-0.78),(-0.74,-1.12),(-0.69,-1.48),(-0.70,-1.85),
(-0.51,1.72),(-0.48,1.28),(-0.53,0.98),(-0.49,0.72),(-0.46,0.38),(-0.52,0.02),(-0.50,-0.28),(-0.47,-0.62),(-0.54,-0.92),(-0.49,-1.28),(-0.52,-1.62),(-0.50,-2.02),
(-0.31,1.98),(-0.28,1.48),(-0.33,1.18),(-0.29,0.82),(-0.26,0.52),(-0.32,0.18),(-0.30,-0.12),(-0.27,-0.42),(-0.34,-0.72),(-0.29,-1.02),(-0.30,-1.38),(-0.32,-1.68),
(-0.11,2.12),(-0.08,1.68),(-0.13,1.32),(-0.09,0.92),(-0.06,0.58),(-0.12,0.28),(-0.10,-0.02),(-0.07,-0.38),(-0.14,-0.62),(-0.09,-0.98),(-0.12,-1.28),(-0.10,-1.62),(-0.08,-1.88),
(0.09,1.98),(0.12,1.52),(0.07,1.22),(0.11,0.92),(0.14,0.62),(0.08,0.22),(0.10,-0.08),(0.13,-0.38),(0.06,-0.62),(0.11,-0.92),(0.09,-1.22),(0.12,-1.52),(0.10,-1.82),
(0.29,2.22),(0.32,1.78),(0.27,1.32),(0.31,1.02),(0.34,0.52),(0.28,0.22),(0.30,-0.02),(0.33,-0.32),(0.26,-0.62),(0.31,-1.18),(0.29,-1.48),(0.30,-2.20),
(0.49,2.02),(0.52,1.62),(0.47,1.28),(0.51,1.02),(0.54,0.78),(0.48,0.48),(0.50,0.22),(0.53,-0.28),(0.46,-0.52),(0.51,-0.88),(0.49,-1.22),(0.52,-1.52),
(0.69,2.02),(0.72,1.52),(0.67,1.28),(0.71,0.82),(0.74,0.58),(0.68,0.28),(0.70,0.02),(0.73,-0.22),(0.66,-0.52),(0.71,-0.88),(0.69,-1.12),(0.72,-1.48),
(0.89,2.12),(0.92,1.72),(0.87,1.32),(0.91,0.92),(0.94,0.68),(0.88,0.38),(0.90,0.12),(0.93,-0.12),(0.86,-0.48),(0.91,-0.78),(0.89,-1.08),(0.92,-1.48),
(1.09,1.82),(1.12,1.42),(1.07,1.18),(1.11,0.92),(1.14,0.58),(1.08,0.22),(1.10,-0.12),(1.13,-0.42),(1.06,-0.78),(1.11,-1.12),(1.09,-1.52),
(1.29,1.88),(1.32,1.52),(1.27,1.22),(1.31,0.88),(1.34,0.58),(1.28,0.28),(1.30,-0.02),(1.33,-0.38),(1.26,-0.78),(1.31,-1.18),
(1.49,1.72),(1.52,1.32),(1.47,0.98),(1.51,0.68),(1.54,0.32),(1.48,-0.08),(1.50,-0.48),(1.53,-0.88),(1.50,-1.30),
(1.69,1.92),(1.72,1.38),(1.67,0.98),(1.71,0.62),(1.74,0.22),(1.68,-0.18),(1.70,-0.62),(1.73,-1.02),
(1.89,1.62),(1.92,1.08),(1.87,0.58),(1.91,0.18),(1.94,-0.32),(1.88,-0.78),
]

PANEL_POINTS = [A_PTS, B_PTS, C_PTS, D_PTS]

# ---------------- layout / style ----------------
W, H = 700, 550
FONT = "Liberation Sans, Arial, Helvetica, sans-serif"
POINT_COLOR = "#B5B5B5"
AXIS_COLOR = "#222222"


def fx(p):
    return p / W


def fy(p):
    return 1 - p / H


# pixel boxes of the four plot regions and x-ranges
GEOM = [
    dict(l=66.7, r=334.0, t=65.7, b=212.7, xr=[-4.30, 4.32]),
    dict(l=430.0, r=697.7, t=65.7, b=212.7, xr=[-4.33, 4.30]),
    dict(l=66.7, r=334.0, t=350.0, b=496.7, xr=[-4.30, 4.32]),
    dict(l=430.0, r=698.0, t=350.0, b=496.7, xr=[-4.32, 4.12]),
]
Y_RANGE = [-4.32, 4.32]

fig = go.Figure()
annotations = []

for i in range(4):
    g = GEOM[i]
    sfx = "" if i == 0 else str(i + 1)
    xa = "x" + sfx
    ya = "y" + sfx
    pts = PANEL_POINTS[i]
    xs = [p[0] for p in pts]
    ys = [p[1] for p in pts]
    fig.add_trace(go.Scatter(
        x=xs, y=ys, mode="markers", xaxis=xa, yaxis=ya,
        marker=dict(color=POINT_COLOR, size=4.4, line=dict(width=0)),
        hoverinfo="skip", showlegend=False))
    lx = [g["xr"][0] - 0.5, g["xr"][1] + 0.5]
    ly = [FIT_INTERCEPT[i] + FIT_SLOPE[i] * v for v in lx]
    fig.add_trace(go.Scatter(
        x=lx, y=ly, mode="lines", xaxis=xa, yaxis=ya,
        line=dict(color="black", width=2, dash="9px,5px"),
        hoverinfo="skip", showlegend=False))

    axis_common = dict(
        showgrid=False, zeroline=False, showline=True, mirror=True,
        linecolor=AXIS_COLOR, linewidth=1, automargin=False,
        ticks="outside", ticklen=7, tickwidth=1, tickcolor=AXIS_COLOR,
        tickvals=TICK_VALS, ticktext=TICK_TEXT,
        tickfont=dict(family=FONT, size=11, color="black"),
        fixedrange=True,
    )
    fig.update_layout(**{
        ("xaxis" + sfx): dict(
            axis_common, domain=[fx(g["l"]), fx(g["r"])], range=g["xr"],
            anchor=ya, ticklabelstandoff=9),
        ("yaxis" + sfx): dict(
            axis_common, domain=[fy(g["b"]), fy(g["t"])], range=Y_RANGE,
            anchor=xa, tickangle=-90, ticklabelstandoff=9),
    })

    cx = (g["l"] + g["r"]) / 2
    cy = (g["t"] + g["b"]) / 2
    # panel letter
    annotations.append(dict(
        text=PANEL_LETTERS[i], x=fx(g["l"] - 25.5), y=fy(g["t"] - 4.5),
        xref="paper", yref="paper", showarrow=False, xanchor="center", yanchor="middle",
        font=dict(family=FONT, size=12, color="black")))
    # sex header
    annotations.append(dict(
        text="<b>" + PANEL_SEX[i] + "</b>", x=fx(cx + (0 if i % 2 == 0 else -1)),
        y=fy(g["t"] - 33), xref="paper", yref="paper", showarrow=False,
        xanchor="center", yanchor="middle",
        font=dict(family=FONT, size=13, color="black")))
    # adj r2
    annotations.append(dict(
        text="adj. r<sup>2</sup> = " + ADJ_R2[i], x=fx(g["l"] + 11.5), y=fy(g["t"] + 15.5),
        xref="paper", yref="paper", showarrow=False, xanchor="left", yanchor="middle",
        font=dict(family=FONT, size=9, color="black")))
    # x title
    annotations.append(dict(
        text=X_TITLES[i], x=fx(cx), y=fy(g["b"] + 47.5),
        xref="paper", yref="paper", showarrow=False, xanchor="center", yanchor="middle",
        font=dict(family=FONT, size=11, color="black")))
    # y titles (two lines)
    annotations.append(dict(
        text=Y_TITLE_1, x=fx(g["l"] - 59), y=fy(cy), textangle=-90,
        xref="paper", yref="paper", showarrow=False, xanchor="center", yanchor="middle",
        font=dict(family=FONT, size=11, color="black")))
    annotations.append(dict(
        text=Y_TITLE_2, x=fx(g["l"] - 45.5), y=fy(cy), textangle=-90,
        xref="paper", yref="paper", showarrow=False, xanchor="center", yanchor="middle",
        font=dict(family=FONT, size=11, color="black")))

# row titles
annotations.append(dict(
    text=ROW_TITLES[0], x=0.5, y=fy(10), xref="paper", yref="paper", showarrow=False,
    xanchor="center", yanchor="middle", font=dict(family=FONT, size=16, color="black")))
annotations.append(dict(
    text=ROW_TITLES[1], x=0.5, y=fy(289), xref="paper", yref="paper", showarrow=False,
    xanchor="center", yanchor="middle", font=dict(family=FONT, size=16, color="black")))

fig.update_layout(
    width=W, height=H,
    margin=dict(l=0, r=0, t=0, b=0, autoexpand=False),
    paper_bgcolor="white", plot_bgcolor="white",
    annotations=annotations,
    showlegend=False,
    hovermode=False,
)

# remove the browser's default 8px page margin so the figure sits at (0, 0)
fig.write_html(
    "out.html",
    config={"displayModeBar": False},
    post_script="document.body.style.margin='0';document.body.style.padding='0';",
)
